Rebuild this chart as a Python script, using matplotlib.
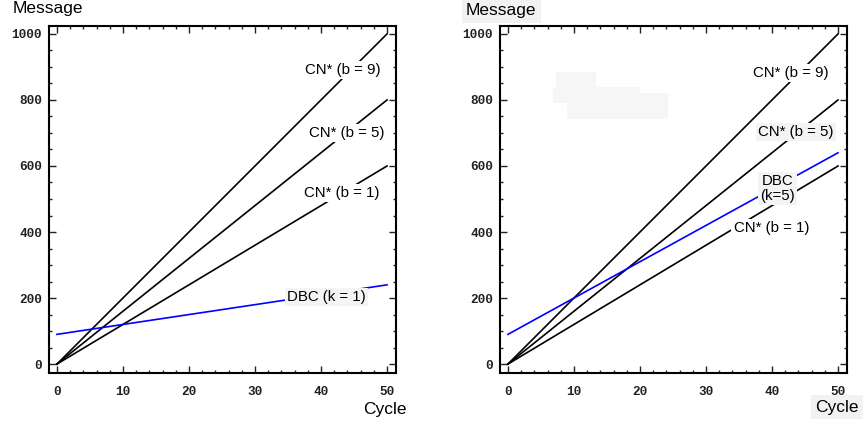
import matplotlib
matplotlib.use("Agg")
import matplotlib.pyplot as plt
from matplotlib.ticker import MultipleLocator
from matplotlib.patches import Rectangle

cycles = [0, 10, 20, 30, 40, 50]
cn_b9 = [0, 200, 400, 600, 800, 1000]
cn_b5 = [0, 160, 320, 480, 640, 800]
cn_b1 = [0, 120, 240, 360, 480, 600]
dbc_k1 = [90, 120, 150, 180, 210, 240]
dbc_k5 = [90, 200, 310, 420, 530, 640]

x_ticks = [0, 10, 20, 30, 40, 50]
y_ticks = [0, 200, 400, 600, 800, 1000]

W, H = 863, 423
fig = plt.figure(figsize=(W / 100, H / 100), dpi=100)

lab_font = dict(family="Liberation Sans", fontsize=10.8, color="black")


def make_ax(left_px, right_px):
    ax = fig.add_axes([left_px / W, 1 - 373 / H, (right_px - left_px) / W, (373 - 26) / H])
    ax.set_xlim(-1.2, 51.36)
    ax.set_ylim(-27, 1024)
    ax.xaxis.set_minor_locator(MultipleLocator(2))
    ax.yaxis.set_minor_locator(MultipleLocator(50))
    ax.set_xticks(x_ticks)
    ax.set_yticks(y_ticks)
    ax.tick_params(which="both", direction="in", top=True, right=True, width=1, color="#222222")
    ax.tick_params(which="major", length=5)
    ax.tick_params(axis="y", which="major", pad=5)
    ax.tick_params(axis="x", which="major", pad=9)
    ax.tick_params(which="minor", length=2.5)
    for lab in ax.get_xticklabels() + ax.get_yticklabels():
        lab.set_fontfamily("Liberation Mono")
        lab.set_fontsize(9.2)
        lab.set_fontweight("bold")
        lab.set_color("#222222")
    for s in ax.spines.values():
        s.set_linewidth(1.5)
    return ax


bbox_w = dict(facecolor="white", edgecolor="none", pad=1.5)
bbox_g = dict(facecolor="#f4f4f4", edgecolor="none", pad=1.5)

# faint blotches in right panel (figure pixel coordinates)
for (x0, y0, x1, y1) in [(556, 72, 596, 88), (553, 87, 640, 103), (567, 93, 668, 119)]:
    fig.patches.append(Rectangle((x0 / W, 1 - y1 / H), (x1 - x0) / W, (y1 - y0) / H,
                                 transform=fig.transFigure, facecolor="#f6f6f6",
                                 edgecolor="none", zorder=3))

# Left panel
ax1 = make_ax(49, 396)
ax1.plot(cycles, cn_b9, color="black", lw=1.2)
ax1.plot(cycles, cn_b5, color="black", lw=1.2)
ax1.plot(cycles, cn_b1, color="black", lw=1.2)
ax1.plot(cycles, dbc_k1, color="#0000ff", lw=1.2)
ax1.text(43.3, 891, "CN* (b = 9)", ha="center", va="center", bbox=bbox_w, zorder=5, **lab_font)
ax1.text(43.9, 700, "CN* (b = 5)", ha="center", va="center", bbox=bbox_w, zorder=5, **lab_font)
ax1.text(43.2, 518, "CN* (b = 1)", ha="center", va="center", bbox=bbox_w, zorder=5, **lab_font)
ax1.text(40.8, 203, "DBC (k = 1)", ha="center", va="center", bbox=bbox_g, zorder=5, **lab_font)

# Right panel
ax2 = make_ax(500, 847)
ax2.patch.set_alpha(0)
ax2.plot(cycles, cn_b9, color="black", lw=1.2)
ax2.plot(cycles, cn_b5, color="black", lw=1.2)
ax2.plot(cycles, cn_b1, color="black", lw=1.2)
ax2.plot(cycles, dbc_k5, color="#0000ff", lw=1.2)
ax2.text(42.9, 882, "CN* (b = 9)", ha="center", va="center", bbox=bbox_w, zorder=5, **lab_font)
ax2.text(43.6, 703, "CN* (b = 5)", ha="center", va="center", bbox=bbox_g, zorder=5, **lab_font)
ax2.text(40.9, 532, "DBC\n(k=5)", ha="center", va="center", linespacing=1.05,
         bbox=bbox_g, zorder=5, **lab_font)
ax2.text(39.9, 412, "CN* (b = 1)", ha="center", va="center", bbox=bbox_w, zorder=5, **lab_font)

# Axis titles
big = dict(family="Liberation Sans", fontsize=12.5, color="black")
fig.text(13 / W, 1 - 9 / H, "Message", ha="left", va="center", **big)
fig.text(363 / W, 1 - 409 / H, "Cycle", ha="left", va="center", **big)
fig.text(466 / W, 1 - 11 / H, "Message", ha="left", va="center",
         bbox=dict(facecolor="#f2f2f2", edgecolor="none", pad=3), **big)
fig.text(815 / W, 1 - 407 / H, "Cycle", ha="left", va="center",
         bbox=dict(facecolor="#f2f2f2", edgecolor="none", pad=3), **big)

fig.savefig("out.png", dpi=100)
